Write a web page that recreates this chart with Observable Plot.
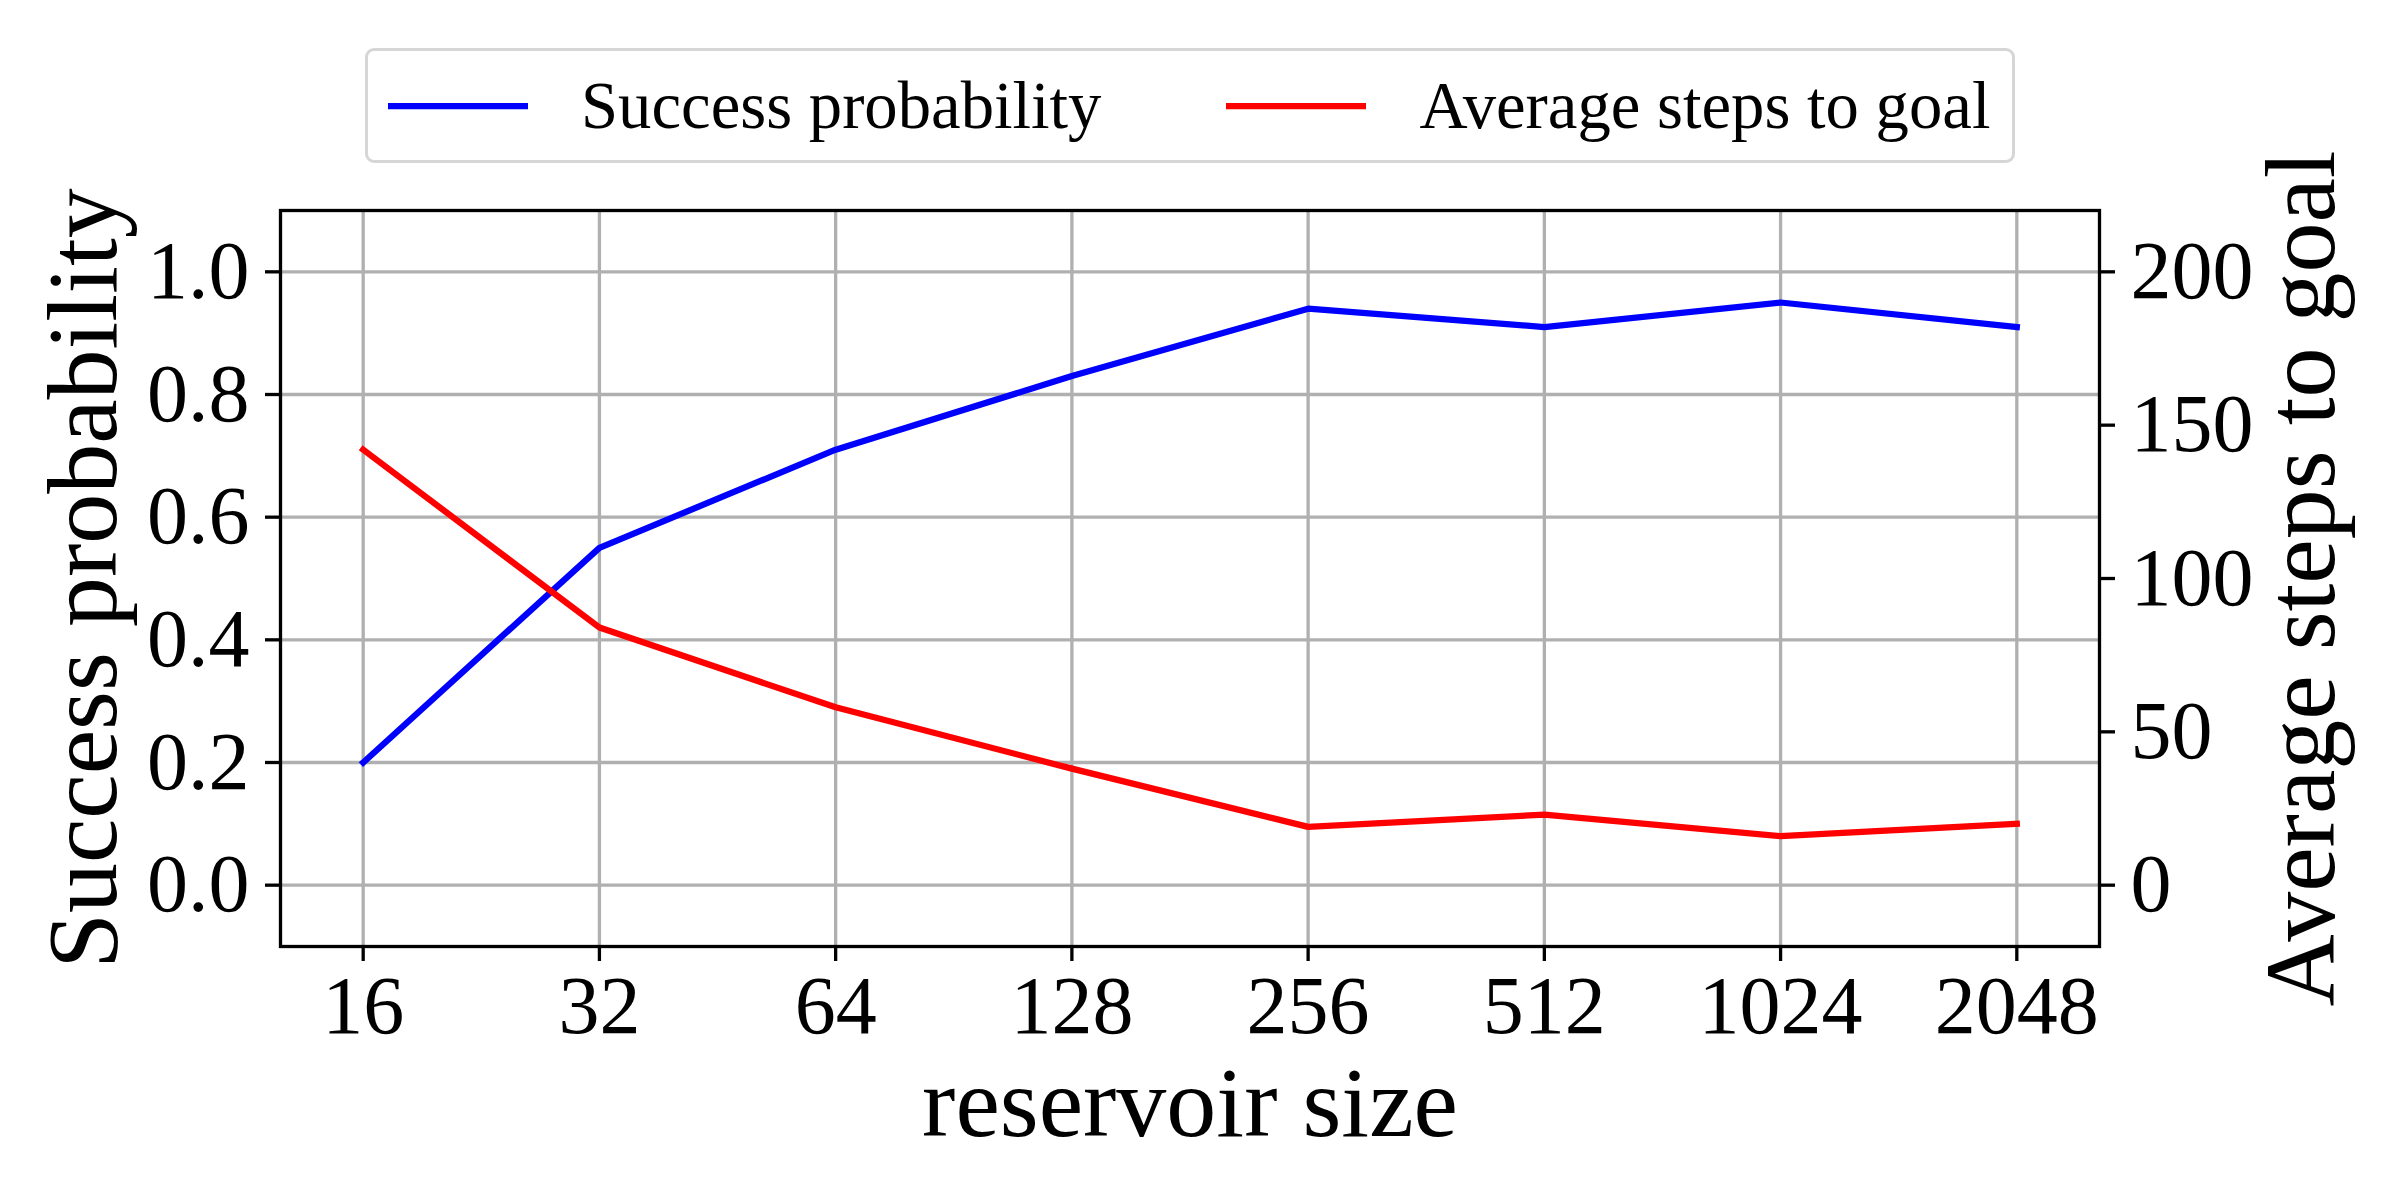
<!DOCTYPE html>
<html>
<head>
<meta charset="utf-8">
<script src="https://cdn.jsdelivr.net/npm/d3@7"></script>
<script src="https://cdn.jsdelivr.net/npm/@observablehq/plot@0.6"></script>
<style>
  html, body { margin: 0; padding: 0; background: #ffffff; }
  #wrap { position: relative; width: 2400px; height: 1200px; font-family: "Liberation Serif", "Times New Roman", serif; }
  #legend {
    position: absolute; left: 365px; top: 48px; width: 1650px; height: 115px;
    box-sizing: border-box; border: 3px solid #d6d6d6; border-radius: 9px;
    display: flex; align-items: center; padding-left: 20px;
    font-size: 66.7px; color: #000; background: #fff;
  }
  .item { display: flex; align-items: center; }
  .item svg { display: block; margin-right: 53px; }
  .item + .item { margin-left: 125px; }
</style>
</head>
<body>
<div id="wrap"></div>
<script>
// ---- data ----
const sizes = [16, 32, 64, 128, 256, 512, 1024, 2048];
const successProb = [0.20, 0.55, 0.71, 0.83, 0.94, 0.91, 0.95, 0.91];
const avgSteps = [142, 84, 58, 38, 19, 23, 16, 20];
const probTicks = [0.0, 0.2, 0.4, 0.6, 0.8, 1.0];
const stepTicks = [0, 50, 100, 150, 200];
const seriesNames = ["Success probability", "Average steps to goal"];
const seriesColors = ["#0000ff", "#ff0000"];
const xLabel = "reservoir size";

// steps axis maps onto the probability axis: 0 -> 0.0, 200 -> 1.0
const stepScale = 200;
const rows = sizes.map((s, i) => ({size: s, success: successProb[i], steps: avgSteps[i]}));

const gridStyle = {stroke: "#b0b0b0", strokeOpacity: 1, strokeWidth: 3.3};
const axisStyle = {fontSize: 82, tickSize: 15, strokeWidth: 3.3, label: null, stroke: "#000", fill: "#000"};

const chart = Plot.plot({
  width: 2400,
  height: 1200,
  marginLeft: 280,
  marginRight: 301,
  marginTop: 210,
  marginBottom: 254,
  style: {fontFamily: "Liberation Serif, Times New Roman, serif", background: "#ffffff", color: "#000"},
  x: {type: "log", base: 2, domain: [16 * Math.pow(2, -0.35), 2048 * Math.pow(2, 0.35)]},
  y: {domain: [-0.1, 1.1]},
  marks: [
    Plot.gridX(sizes, gridStyle),
    Plot.gridY(probTicks, gridStyle),
    Plot.line(rows, {x: "size", y: "success", stroke: seriesColors[0], strokeWidth: 6.25, strokeLinejoin: "round", strokeLinecap: "square"}),
    Plot.line(rows, {x: "size", y: d => d.steps / stepScale, stroke: seriesColors[1], strokeWidth: 6.25, strokeLinejoin: "round", strokeLinecap: "square"}),
    Plot.frame({stroke: "#000", strokeWidth: 3.3}),
    Plot.axisX(sizes, {...axisStyle, tickPadding: 13, tickFormat: d => String(d)}),
    Plot.axisY(probTicks, {...axisStyle, anchor: "left", tickPadding: 16, tickFormat: d => d.toFixed(1)}),
    Plot.axisY(stepTicks.map(v => v / stepScale), {...axisStyle, anchor: "right", tickPadding: 16, tickFormat: d => String(Math.round(d * stepScale))}),
    Plot.text([xLabel], {text: d => d, frameAnchor: "bottom", dy: 189, lineAnchor: "bottom", textAnchor: "middle", fontSize: 100, fill: "#000"}),
    Plot.text([seriesNames[0]], {text: d => d, frameAnchor: "left", dx: -165, rotate: -90, lineAnchor: "bottom", textAnchor: "middle", fontSize: 100, fill: "#000"}),
    Plot.text([seriesNames[1]], {text: d => d, frameAnchor: "right", dx: 234, rotate: -90, lineAnchor: "bottom", textAnchor: "middle", fontSize: 100, fill: "#000"})
  ]
});

const wrap = document.getElementById("wrap");
wrap.appendChild(chart);

// legend (HTML, above the plot area)
const legend = document.createElement("div");
legend.id = "legend";
seriesNames.forEach((name, i) => {
  const item = document.createElement("div");
  item.className = "item";
  const sw = d3.create("svg").attr("width", 140).attr("height", 20);
  sw.append("line").attr("x1", 0).attr("x2", 140).attr("y1", 10).attr("y2", 10)
    .attr("stroke", seriesColors[i]).attr("stroke-width", 6.25);
  item.appendChild(sw.node());
  const span = document.createElement("span");
  span.textContent = name;
  item.appendChild(span);
  legend.appendChild(item);
});
wrap.appendChild(legend);
</script>
</body>
</html>
